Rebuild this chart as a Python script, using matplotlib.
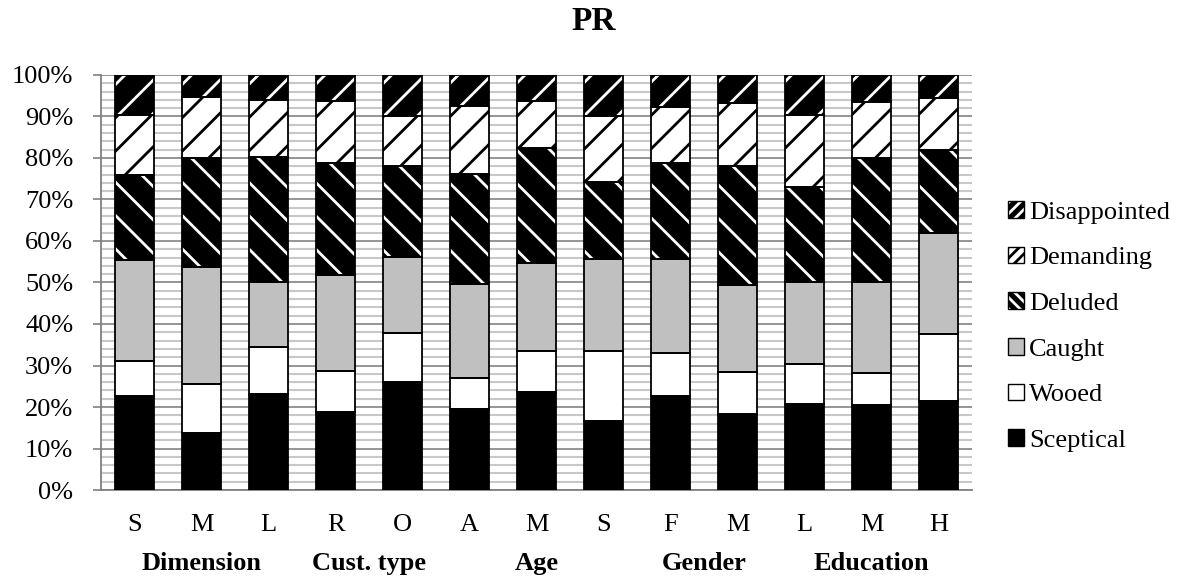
import numpy as np
import matplotlib
matplotlib.use("Agg")
import matplotlib.pyplot as plt
from matplotlib.patches import Patch
from matplotlib import transforms

# Share of each customer type (%) per segment
categories = ["S", "M", "L", "R", "O", "A", "M", "S", "F", "M", "L", "M", "H"]
groups = ["Dimension", "Cust. type", "Age", "Gender", "Education"]
group_sizes = [3, 2, 3, 2, 3]

sceptical    = [22.7, 13.7, 23.1, 18.9, 26.1, 19.5, 23.7, 16.7, 22.7, 18.4, 20.8, 20.6, 21.4]
wooed        = [8.4, 11.8, 11.4, 9.8, 11.7, 7.4, 9.8, 16.8, 10.4, 10.1, 9.6, 7.6, 16.2]
caught       = [24.3, 28.2, 15.7, 23.1, 18.3, 22.7, 21.1, 22.2, 22.5, 20.8, 19.8, 21.8, 24.3]
deluded      = [20.5, 26.2, 30.0, 26.9, 22.0, 26.5, 27.9, 18.4, 23.3, 28.8, 22.9, 29.9, 20.0]
demanding    = [14.5, 14.7, 13.8, 15.0, 12.0, 16.5, 11.3, 16.0, 13.5, 15.2, 17.3, 13.7, 12.6]
disappointed = [9.6, 5.4, 6.0, 6.3, 9.9, 7.4, 6.2, 9.9, 7.6, 6.7, 9.6, 6.4, 5.5]

# (label, values, face, hatch colour, hatch)
series = [
    ("Sceptical", sceptical, "black", "black", None),
    ("Wooed", wooed, "white", "black", None),
    ("Caught", caught, "#c0c0c0", "black", None),
    ("Deluded", deluded, "black", "white", "\\"),
    ("Demanding", demanding, "white", "black", "/"),
    ("Disappointed", disappointed, "black", "white", "/"),
]

plt.rcParams["font.family"] = ["Liberation Serif", "DejaVu Serif"]
plt.rcParams["hatch.linewidth"] = 2.0

fig = plt.figure(figsize=(11.82, 5.83), dpi=100)
ax = fig.add_axes([0.0855, 0.1595, 0.8223 - 0.0855, 0.8714 - 0.1595])

x = np.arange(len(categories))
width = 0.58
bottom = np.zeros(len(categories))
handles = []
for label, vals, face, hcol, hatch in series:
    vals = np.array(vals)
    ax.bar(x, vals, width, bottom=bottom, color=face, edgecolor=hcol,
           hatch=hatch, linewidth=0, zorder=3)
    ax.bar(x, vals, width, bottom=bottom, fill=False, edgecolor="black",
           linewidth=1.3, zorder=4)
    bottom += vals
    h1 = Patch(facecolor=face, edgecolor=hcol, linewidth=0,
               hatch=None if hatch is None else hatch * 3)
    h2 = Patch(fill=False, edgecolor="black", linewidth=1.0)
    handles.append(((h1, h2), label))

ax.set_xlim(-0.5, len(categories) - 0.5)
ax.set_ylim(0, 100)
ax.set_yticks(np.arange(0, 101, 10))
ax.set_yticklabels(["%d%%" % v for v in range(0, 101, 10)])
ax.set_yticks(np.arange(0, 101, 2), minor=True)
ax.grid(which="minor", axis="y", color="#c8c8c8", linewidth=1.5)
ax.grid(which="major", axis="y", color="#8c8c8c", linewidth=1.3)
ax.set_axisbelow(True)

ax.set_xticks(x)
ax.set_xticklabels(categories)
ax.tick_params(axis="x", length=0, pad=17, labelsize=19)
ax.tick_params(axis="y", which="major", length=6, color="#808080",
               width=1.2, pad=14, labelsize=19)
ax.tick_params(axis="y", which="minor", length=0)

for side in ["top", "right"]:
    ax.spines[side].set_visible(False)
for side in ["left", "bottom"]:
    ax.spines[side].set_color("#808080")
    ax.spines[side].set_linewidth(1.3)

# group names under the category letters
trans = transforms.blended_transform_factory(ax.transData, ax.transAxes)
start = 0
for name, n in zip(groups, group_sizes):
    ax.text(start + (n - 1) / 2, -0.176, name, transform=trans,
            ha="center", va="center", fontsize=19, fontweight="bold")
    start += n

fig.text(0.502, 1 - 22 / 583, "PR", ha="center", va="center",
         fontsize=24, fontweight="bold")

handles = handles[::-1]
fig.legend([h for h, _ in handles], [l for _, l in handles],
           loc="center left", bbox_to_anchor=(0.853, 0.44),
           frameon=False, fontsize=19, handlelength=0.6, handleheight=0.6,
           handletextpad=0.2, labelspacing=0.87, borderpad=0,
           borderaxespad=0)

fig.savefig("out.png", dpi=100)
